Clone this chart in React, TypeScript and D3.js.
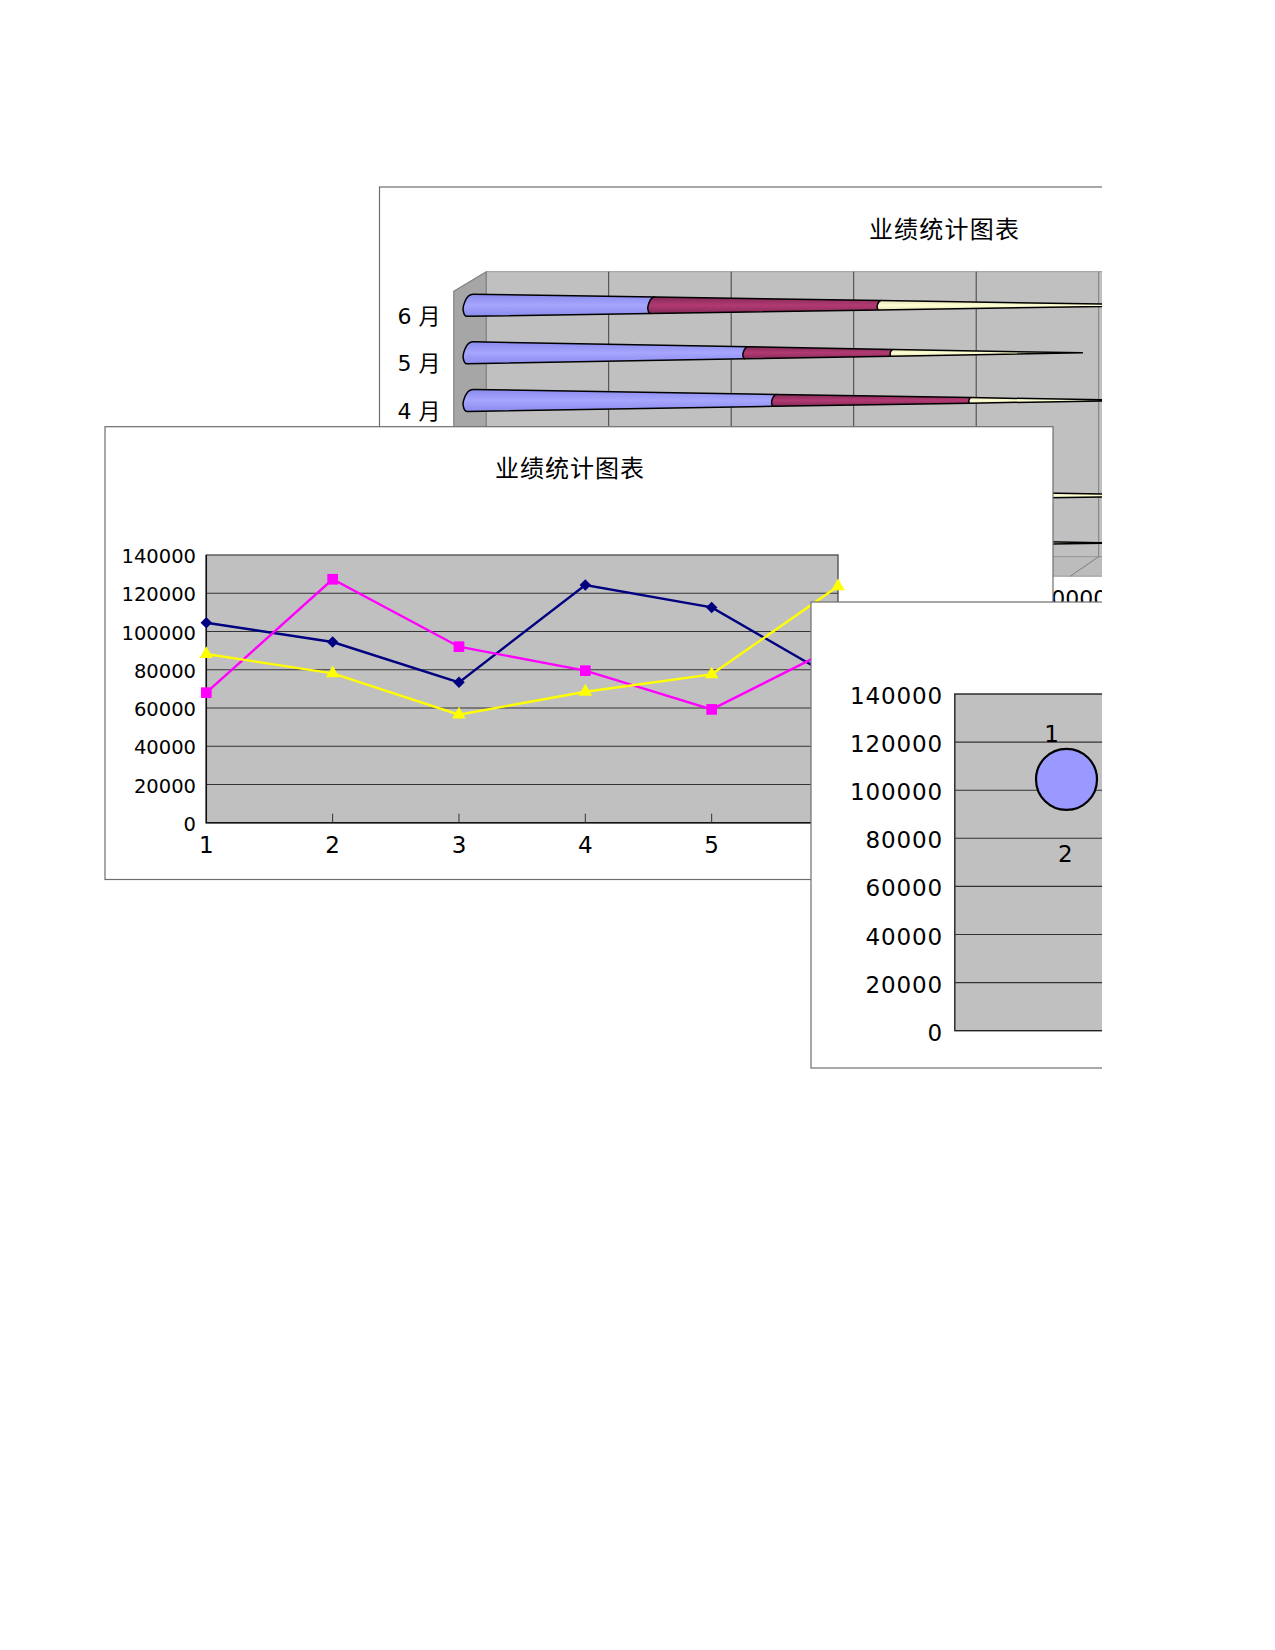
import { useEffect, useRef } from 'react'
import * as d3 from 'd3'

const title = '业绩统计图表'
const monthLabels = ['1 月', '2 月', '3 月', '4 月', '5 月', '6 月']
const pointLabels = [1, 2, 3, 4, 5, 6]

const seriesA = [104600, 94500, 73400, 124300, 112600, 74500]
const seriesB = [68000, 127300, 92050, 79500, 59250, 92500]
const seriesC = [88200, 78100, 56500, 68500, 77600, 123600]

const valueTicks = [0, 20000, 40000, 60000, 80000, 100000, 120000, 140000]
const coneTicks = [0, 50000, 100000, 150000, 200000, 250000, 300000]
const coneLabelTicks = [250000]

// third chart: one bubble and two stray data labels
const bubbleValue = [104500]
const bubbleLabels = ['1', '2']
const bubbleLabelX = [0.866, 0.99]
const bubbleLabelY = [123400, 73600]

const SANS = '"DejaVu Sans", "Noto Sans CJK SC", sans-serif'
const GREY = '#C0C0C0'
const GRID = '#333333'
const FRAME = '#6e6e6e'

const coneColors = [
  ['#8a8aec', '#a6a6ff', '#8a8aec'],
  ['#852a58', '#b23a72', '#852a58'],
  ['#e2e2b4', '#ffffd4', '#e2e2b4'],
]

export default function App() {
  const svgRef = useRef<SVGSVGElement>(null)

  useEffect(() => {
    if (!svgRef.current) return
    const svg = d3.select(svgRef.current)
    svg.selectAll('*').remove()

    const defs = svg.append('defs')
    defs
      .append('clipPath')
      .attr('id', 'page')
      .append('rect')
      .attr('width', 1102)
      .attr('height', 1650)
    coneColors.forEach((stops, i) => {
      const grad = defs
        .append('linearGradient')
        .attr('id', `cone${i}`)
        .attr('x1', 0)
        .attr('y1', 0)
        .attr('x2', 0)
        .attr('y2', 1)
      stops.forEach((c, j) => {
        grad
          .append('stop')
          .attr('offset', j / 2)
          .attr('stop-color', c)
      })
    })

    const page = svg.append('g').attr('clip-path', 'url(#page)')

    const frame = (x0: number, y0: number, x1: number, y1: number) =>
      page
        .append('rect')
        .attr('x', x0)
        .attr('y', y0)
        .attr('width', x1 - x0)
        .attr('height', y1 - y0)
        .attr('fill', 'white')
        .attr('stroke', FRAME)
        .attr('stroke-width', 1.2)

    const label = (
      txt: string,
      x: number,
      y: number,
      size: number,
      anchor = 'middle',
      spacing = 0
    ) =>
      page
        .append('text')
        .attr('x', x)
        .attr('y', y)
        .attr('dy', '0.36em')
        .attr('text-anchor', anchor)
        .attr('font-family', SANS)
        .attr('font-size', size)
        .attr('letter-spacing', spacing)
        .attr('fill', 'black')
        .text(txt)

    // ---- chart 1: 3D stacked cones (mostly covered by the others)
    frame(379.5, 187, 1200, 620)
    label(title, 944.5, 229, 24, 'middle', 1.2)

    const depthX = 32.4
    const depthY = 19.5
    const wallTop = 271.7
    const wallBottom = 556.7
    const wallX = d3.scaleLinear().domain([0, 300000]).range([486.2, 1221.2])
    const coneX = d3.scaleLinear().domain([0, 300000]).range([473, 1206.5])
    const coneY = d3
      .scalePoint<string>()
      .domain([...monthLabels].reverse())
      .range([305.3, 543])

    const x0 = wallX(0)
    const xEnd = wallX(300000)
    page
      .append('path')
      .attr('d', `M${x0},${wallTop}H${xEnd}V${wallBottom}H${x0}Z`)
      .attr('fill', GREY)
      .attr('stroke', '#999')
    page
      .append('path')
      .attr(
        'd',
        `M${x0 - depthX},${wallTop + depthY}L${x0},${wallTop}V${wallBottom}L${x0 - depthX},${wallBottom + depthY}Z`
      )
      .attr('fill', '#A6A6A6')
      .attr('stroke', '#808080')
      .attr('stroke-width', 1.2)
    page
      .append('path')
      .attr(
        'd',
        `M${x0 - depthX},${wallBottom + depthY}L${x0},${wallBottom}H${xEnd}V${wallBottom + depthY}Z`
      )
      .attr('fill', '#BCBCBC')
      .attr('stroke', '#999')

    coneTicks.slice(1).forEach((t) => {
      page
        .append('path')
        .attr(
          'd',
          `M${wallX(t)},${wallTop}V${wallBottom}L${wallX(t) - depthX + 4},${wallBottom + depthY}`
        )
        .attr('fill', 'none')
        .attr('stroke', t === 250000 ? '#777' : GRID)
        .attr('stroke-width', 0.9)
    })
    coneLabelTicks.forEach((t) => {
      label(String(t), wallX(t) - depthX - 1, 598, 22)
    })

    const stack = d3
      .stack<number>()
      .keys(['a', 'b', 'c'])
      .value((i, key) =>
        key === 'a' ? seriesA[i] : key === 'b' ? seriesB[i] : seriesC[i]
      )
    const layers = stack(d3.range(monthLabels.length))

    const baseHalf = 11
    const baseRx = 10
    monthLabels.forEach((m, i) => {
      const cy = coneY(m) as number
      const total = layers[2][i][1]
      const half = (v: number) => baseHalf * (1 - v / total)
      layers.forEach((layer, s) => {
        const [v0, v1] = layer[i]
        const xa = coneX(v0)
        const xb = coneX(v1)
        const ha = half(v0)
        const hb = half(v1)
        const rx = baseRx * (ha / baseHalf)
        const rb = baseRx * (hb / baseHalf)
        // slanted end cap: the bottom of the rim sits left of the top
        const cap =
          `C${xa - 0.8 * rx},${cy - ha} ${xa - 1.05 * rx},${cy + 0.3 * ha} ${xa - 0.97 * rx},${cy + 0.5 * ha}` +
          `C${xa - 0.92 * rx},${cy + 0.8 * ha} ${xa - 0.85 * rx},${cy + ha} ${xa - 0.6 * rx},${cy + ha}`
        page
          .append('path')
          .attr(
            'd',
            `M${xb},${cy - hb}L${xa},${cy - ha}${cap}L${xb - 0.6 * rb},${cy + hb}`
          )
          .attr('fill', `url(#cone${s})`)
          .attr('stroke', 'black')
          .attr('stroke-width', 1.5)
      })
      label(m, 440.5, cy + 10.4, 22, 'end')
    })

    // ---- chart 2: lines
    frame(105, 426.7, 1053, 879.5)
    label(title, 570, 468, 24, 'middle', 1)

    const lineX = d3.scaleLinear().domain([1, 6]).range([206.3, 838])
    const lineY = d3.scaleLinear().domain([0, 140000]).range([822.7, 555])

    page
      .append('rect')
      .attr('x', lineX(1))
      .attr('y', lineY(140000))
      .attr('width', lineX(6) - lineX(1))
      .attr('height', lineY(0) - lineY(140000))
      .attr('fill', GREY)
      .attr('stroke', '#555')
      .attr('stroke-width', 1.4)

    valueTicks.forEach((t) => {
      if (t > 0 && t < 140000) {
        page
          .append('line')
          .attr('x1', lineX(1))
          .attr('x2', lineX(6))
          .attr('y1', lineY(t))
          .attr('y2', lineY(t))
          .attr('stroke', GRID)
          .attr('stroke-width', 1.1)
      }
      label(String(t), 196, lineY(t) + 1.2, 19.5, 'end')
    })
    page
      .append('path')
      .attr(
        'd',
        `M${lineX(1)},${lineY(140000)}V${lineY(0)}H${lineX(6)}`
      )
      .attr('fill', 'none')
      .attr('stroke', '#111')
      .attr('stroke-width', 1.5)

    pointLabels.forEach((p) => {
      if (p > 1) {
        page
          .append('line')
          .attr('x1', lineX(p))
          .attr('x2', lineX(p))
          .attr('y1', lineY(0))
          .attr('y2', lineY(0) - 9)
          .attr('stroke', '#333')
      }
      label(String(p), lineX(p), 845, 23)
    })

    const line = d3
      .line<number>()
      .x((_, i) => lineX(pointLabels[i]))
      .y((d) => lineY(d))

    const lineSeries = [
      { values: seriesA, color: '#000080', symbol: d3.symbolSquare, size: 66, turn: 45 },
      { values: seriesB, color: '#FF00FF', symbol: d3.symbolSquare, size: 114, turn: 0 },
      { values: seriesC, color: '#FFFF00', symbol: d3.symbolTriangle, size: 80, turn: 0 },
    ]
    lineSeries.forEach((s) => {
      page
        .append('path')
        .attr('d', line(s.values))
        .attr('fill', 'none')
        .attr('stroke', s.color)
        .attr('stroke-width', 2.4)
      s.values.forEach((v, i) => {
        page
          .append('path')
          .attr('d', d3.symbol().type(s.symbol).size(s.size)())
          .attr(
            'transform',
            `translate(${lineX(pointLabels[i])},${lineY(v)}) rotate(${s.turn})`
          )
          .attr('fill', s.color)
      })
    })

    // ---- chart 3: bubble
    frame(811, 602, 1200, 1068)

    const bubbleX = d3.scaleLinear().domain([0, 1]).range([954.8, 1066.5])
    const bubbleY = d3.scaleLinear().domain([0, 140000]).range([1030.7, 694])

    page
      .append('rect')
      .attr('x', bubbleX(0))
      .attr('y', bubbleY(140000))
      .attr('width', 300)
      .attr('height', bubbleY(0) - bubbleY(140000))
      .attr('fill', GREY)
      .attr('stroke', '#222')
      .attr('stroke-width', 1.4)

    valueTicks.forEach((t) => {
      if (t > 0 && t < 140000) {
        page
          .append('line')
          .attr('x1', bubbleX(0))
          .attr('x2', 1255)
          .attr('y1', bubbleY(t))
          .attr('y2', bubbleY(t))
          .attr('stroke', GRID)
          .attr('stroke-width', 1.1)
      }
      label(String(t), 943, bubbleY(t) + 1.8, 23, 'end', 0.85)
    })

    bubbleValue.forEach((v) => {
      page
        .append('circle')
        .attr('cx', bubbleX(1))
        .attr('cy', bubbleY(v))
        .attr('r', 30.5)
        .attr('fill', '#9999FF')
        .attr('stroke', 'black')
        .attr('stroke-width', 2.2)
    })
    bubbleLabels.forEach((t, i) => {
      label(t, bubbleX(bubbleLabelX[i]), bubbleY(bubbleLabelY[i]), 23)
    })
  }, [])

  return (
    <svg
      ref={svgRef}
      width={1275}
      height={1650}
      style={{ position: 'absolute', left: 0, top: 0, background: 'white' }}
    />
  )
}
